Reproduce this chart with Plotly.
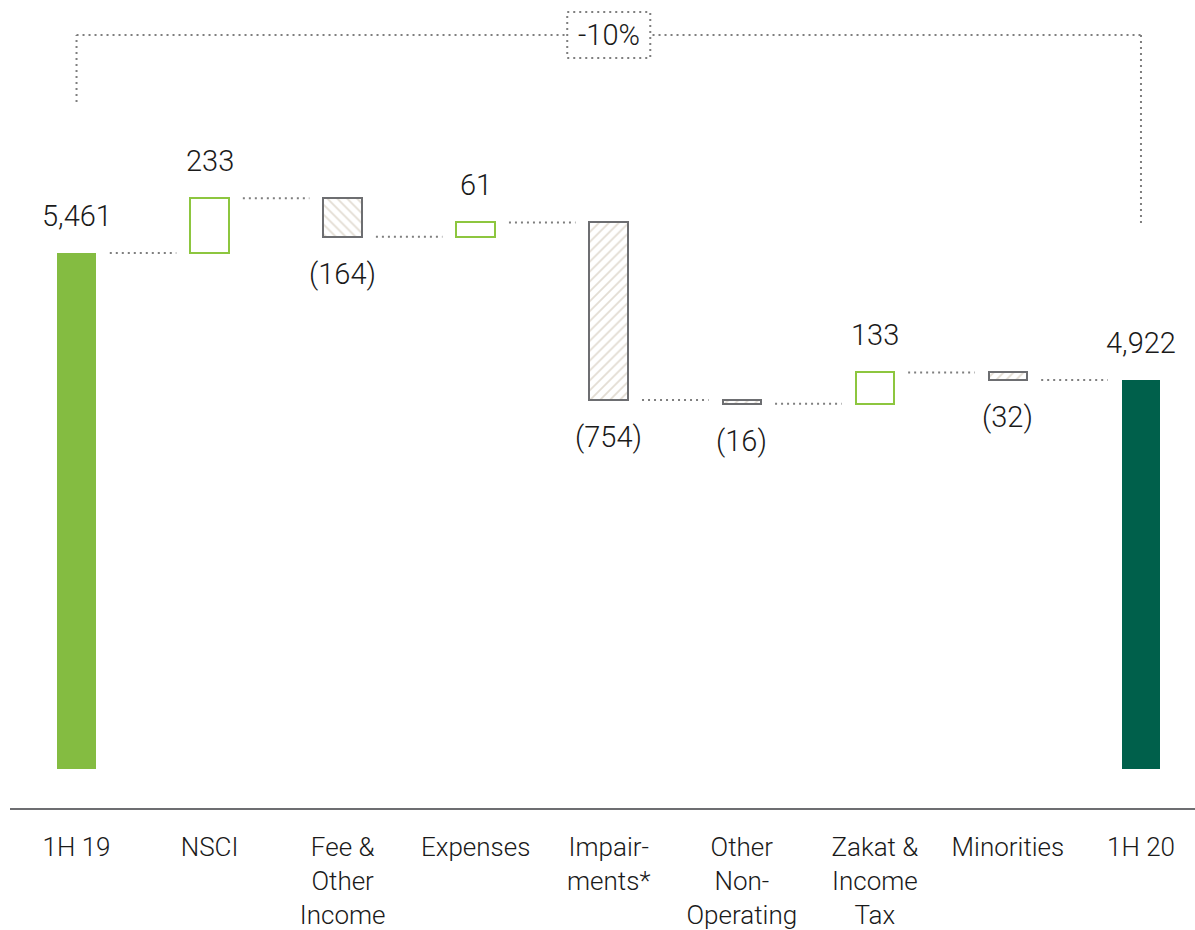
import plotly.graph_objects as go

# Net income bridge, 1H 19 -> 1H 20 (SAR mn)
categories = ["1H 19", "NSCI", "Fee &<br>Other<br>Income", "Expenses", "Impair-<br>ments*",
              "Other<br>Non-<br>Operating", "Zakat &<br>Income<br>Tax", "Minorities", "1H 20"]
start_total = 5461
changes = [233, -164, 61, -754, -16, 133, -32]
end_total = 4922
change_pct = "-10%"

# Styling
GREEN_LIGHT = "#84bc41"
GREEN_DARK = "#00604b"
GREEN_LINE = "#8dc63f"
GREY_LINE = "#6d6e71"
DOT_GREY = "#7f7f7f"
HATCH = "#e3ddd3"
FONT = "Roboto"
TXT = "#1a1a1a"

Y_MIN, Y_MAX = 3271, 6535
BAR_W = 0.29

# Running totals for the floating bars
levels = [start_total]
for c in changes:
    levels.append(levels[-1] + c)

n = len(categories)
xs = list(range(n))

fig = go.Figure()

# opening and closing totals
fig.add_trace(go.Bar(
    x=[0, n - 1], y=[start_total, end_total], base=[0, 0], width=BAR_W,
    marker=dict(color=[GREEN_LIGHT, GREEN_DARK], line=dict(width=0)),
    hoverinfo="skip", showlegend=False,
))

# increases: outlined in green
up_x = [i + 1 for i, c in enumerate(changes) if c >= 0]
up_y = [c for c in changes if c >= 0]
up_b = [levels[i] for i, c in enumerate(changes) if c >= 0]
fig.add_trace(go.Bar(
    x=up_x, y=up_y, base=up_b, width=BAR_W,
    marker=dict(color="white", line=dict(color=GREEN_LINE, width=2)),
    hoverinfo="skip", showlegend=False,
))

# decreases: grey outline with light hatching
dn_x = [i + 1 for i, c in enumerate(changes) if c < 0]
dn_y = [-c for c in changes if c < 0]
dn_b = [levels[i + 1] for i, c in enumerate(changes) if c < 0]
dn_shape = ["\\" if x == 2 else "/" for x in dn_x]
fig.add_trace(go.Bar(
    x=dn_x, y=dn_y, base=dn_b, width=BAR_W,
    marker=dict(
        color="white",
        line=dict(color=GREY_LINE, width=2),
        pattern=dict(shape=dn_shape, fgcolor=HATCH, fgopacity=1, bgcolor="white",
                     size=7, solidity=0.25),
    ),
    hoverinfo="skip", showlegend=False,
))

shapes = []
dot = "2px,4px"
# connectors between consecutive bars
for i in range(n - 1):
    lvl = levels[i]
    shapes.append(dict(type="line", xref="x", yref="y", x0=i + 0.25, x1=i + 0.75,
                       y0=lvl, y1=lvl, line=dict(color=DOT_GREY, width=2, dash=dot)))

# bracket spanning start to end
BR_TOP = 6386
shapes.append(dict(type="line", xref="x", yref="y", x0=0, x1=0, y0=6102, y1=BR_TOP,
                   line=dict(color=DOT_GREY, width=2, dash=dot)))
shapes.append(dict(type="line", xref="x", yref="y", x0=0, x1=n - 1, y0=BR_TOP, y1=BR_TOP,
                   line=dict(color=DOT_GREY, width=2, dash=dot)))
shapes.append(dict(type="line", xref="x", yref="y", x0=n - 1, x1=n - 1, y0=BR_TOP, y1=5580,
                   line=dict(color=DOT_GREY, width=2, dash=dot)))
mid = (n - 1) / 2
shapes.append(dict(type="rect", xref="x", yref="y", x0=mid - 0.312, x1=mid + 0.312,
                   y0=6289, y1=6484, fillcolor="white", layer="above",
                   line=dict(color=DOT_GREY, width=2, dash=dot)))

# baseline below the bars
shapes.append(dict(type="line", xref="paper", yref="paper", x0=0, x1=1,
                   y0=-40 / 769, y1=-40 / 769, line=dict(color=GREY_LINE, width=2)))

annotations = []
def fmt(v):
    return f"({abs(v):,})" if v < 0 else f"{v:,}"

label_vals = [start_total] + changes + [end_total]
tops = [start_total] + [max(levels[i], levels[i + 1]) for i in range(len(changes))] + [end_total]
bottoms = [0] + [min(levels[i], levels[i + 1]) for i in range(len(changes))] + [0]
for i, v in enumerate(label_vals):
    if v >= 0:
        y = tops[i]; shift = 37
    else:
        y = bottoms[i]; shift = -37
    annotations.append(dict(x=i, y=y, xref="x", yref="y", text=fmt(v), showarrow=False,
                            yanchor="middle", yshift=shift,
                            font=dict(family=FONT, size=29, color=TXT, weight=300)))
annotations.append(dict(x=mid, y=BR_TOP, xref="x", yref="y", text=change_pct, showarrow=False,
                        yanchor="middle",
                        font=dict(family=FONT, size=29, color=TXT, weight=300)))

fig.update_layout(
    width=1195, height=930,
    margin=dict(l=10, r=0, t=0, b=161),
    paper_bgcolor="white", plot_bgcolor="white",
    barmode="overlay", bargap=0,
    shapes=shapes, annotations=annotations,
    xaxis=dict(range=[-0.5, 8.406], tickmode="array", tickvals=xs, ticktext=categories,
               showgrid=False, zeroline=False, showline=False, ticks="",
               ticklabelstandoff=60,
               tickfont=dict(family=FONT, size=26, color=TXT, weight=300)),
    yaxis=dict(range=[Y_MIN, Y_MAX], visible=False, showgrid=False, zeroline=False),
)

fig.write_html("out.html")
